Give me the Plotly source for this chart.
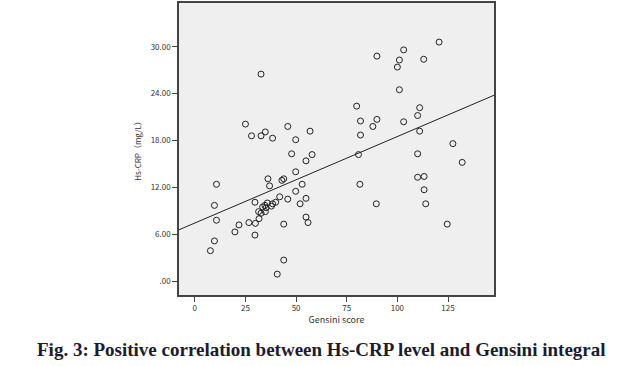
import plotly.graph_objects as go

# Gensini score (x) and Hs-CRP mg/L (y)
gensini = [7.7, 9.7, 9.7, 10.7, 10.7, 19.8, 21.8, 25.0, 26.7, 28.0,
           29.7, 29.9, 29.7, 31.5, 31.7, 32.7, 32.7, 32.7, 33.5, 34.6,
           34.8, 34.8, 35.2, 35.8, 36.1, 36.9, 37.8, 38.4, 38.4, 39.9,
           40.7, 41.9, 43.0, 43.9, 43.9, 43.9, 45.9, 45.9, 47.8, 49.8,
           49.8, 49.8, 52.0, 53.0, 54.9, 54.9, 54.9, 55.9, 56.9, 57.9,
           79.9, 80.8, 81.5, 81.8, 81.8, 87.9, 89.6, 89.9, 89.9, 100.0,
           101.0, 101.0, 103.1, 103.1, 110.0, 110.0, 110.0, 111.0, 111.0, 113.0,
           113.2, 113.2, 114.0, 120.6, 124.6, 127.4, 132.0]
hscrp = [3.9, 5.15, 9.7, 7.8, 12.4, 6.3, 7.2, 20.1, 7.5, 18.6,
         5.9, 7.4, 10.1, 8.9, 8.0, 8.7, 18.6, 26.5, 9.5, 9.7,
         8.9, 19.1, 9.4, 10.0, 13.1, 12.2, 9.6, 9.9, 18.3, 10.1,
         0.9, 10.8, 12.9, 13.1, 7.3, 2.7, 10.5, 19.8, 16.3, 18.1,
         14.0, 11.5, 9.9, 12.4, 15.4, 10.6, 8.2, 7.5, 19.2, 16.2,
         22.4, 16.2, 12.4, 20.5, 18.7, 19.8, 9.9, 20.7, 28.8, 27.4,
         28.3, 24.5, 29.6, 20.4, 21.2, 16.3, 13.3, 22.2, 19.2, 28.4,
         13.4, 11.7, 9.9, 30.6, 7.3, 17.6, 15.2]

# fit line
fit_intercept = 7.44
fit_slope = 0.1107

x_range = [-7.8, 147.7]
y_range = [-1.77, 35.6]
y_tickvals = [0, 6, 12, 18, 24, 30]
y_ticktext = [".00", "6.00", "12.00", "18.00", "24.00", "30.00"]
x_tickvals = [0, 25, 50, 75, 100, 125]
x_ticktext = ["0", "25", "50", "75", "100", "125"]

caption = "Fig. 3: Positive correlation between Hs-CRP level and Gensini integral"

fig = go.Figure()
fig.add_trace(go.Scatter(
    x=gensini, y=hscrp, mode="markers",
    marker=dict(symbol="circle-open", size=6, color="#222222", line=dict(width=1)),
    hoverinfo="skip", showlegend=False,
))
fig.add_trace(go.Scatter(
    x=x_range, y=[fit_intercept + fit_slope * v for v in x_range],
    mode="lines", line=dict(color="#222222", width=1),
    hoverinfo="skip", showlegend=False,
))

tick_font = dict(family="Noto Sans CJK SC, DejaVu Sans", size=8, color="#333333")
fig.update_layout(
    width=643, height=366,
    margin=dict(l=179, r=149, t=1, b=71),
    paper_bgcolor="white",
    plot_bgcolor="#efefef",
    font=tick_font,
    xaxis=dict(range=x_range, tickvals=x_tickvals, ticktext=x_ticktext,
               ticks="outside", ticklen=5, tickcolor="#444", showgrid=False,
               zeroline=False, showline=True, linecolor="#444", linewidth=1.5,
               mirror=True, tickfont=tick_font,
               title=dict(text="Gensini score", standoff=2,
                          font=dict(family="Noto Sans CJK SC, DejaVu Sans", size=9, color="#333"))),
    yaxis=dict(range=y_range, tickvals=y_tickvals, ticktext=y_ticktext,
               ticks="outside", ticklen=5, tickcolor="#444", showgrid=False,
               zeroline=False, showline=True, linecolor="#444", linewidth=1.5,
               mirror=True, tickfont=tick_font,
               title=dict(text="Hs-CRP（mg/L）", standoff=8,
                          font=dict(family="Noto Sans CJK SC, DejaVu Sans", size=8, color="#333"))),
    annotations=[dict(
        text="<b>" + caption + "</b>", xref="paper", yref="paper",
        x=(321.5 - 179) / 315, y=(295 - 350) / 294, xanchor="center", yanchor="middle",
        showarrow=False,
        font=dict(family="Liberation Serif", size=19, color="#1c1c2e"),
    )],
)

fig.write_html("out.html", config={"displayModeBar": False},
               post_script="document.body.style.margin='0';")
